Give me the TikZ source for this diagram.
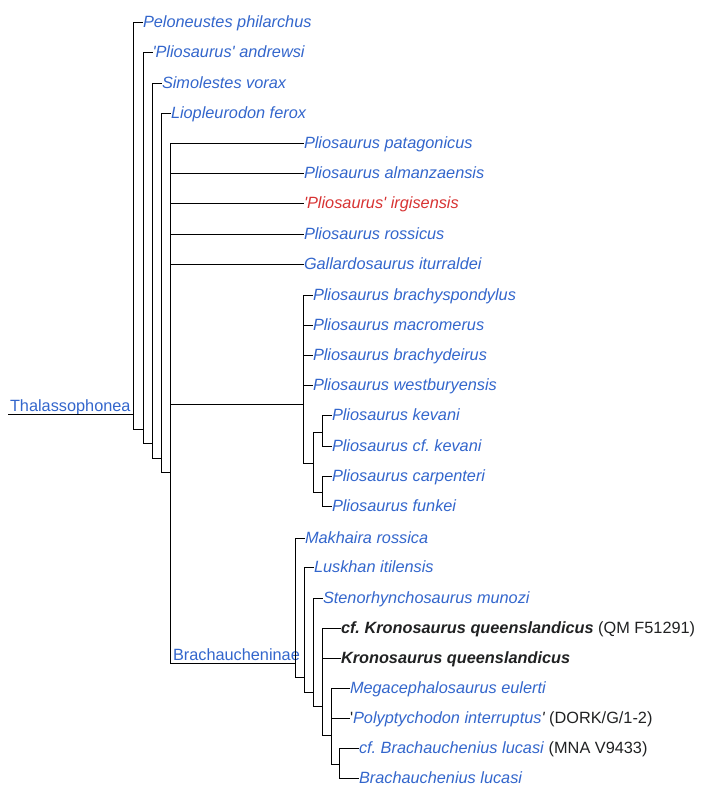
\documentclass[tikz,border=0pt]{standalone}
\usepackage{fontspec}
\setmainfont{Liberation Sans}
\definecolor{lnk}{HTML}{3366CC}
\definecolor{newlnk}{HTML}{D73333}
\definecolor{txt}{HTML}{202122}
\newcommand{\q}{\textquotesingle}
\frenchspacing
\begin{document}
\begin{tikzpicture}[x=1pt,y=-1pt,
  leaf/.style={anchor=west, inner sep=0pt, outer sep=0pt, text height=10.6pt, text depth=0pt,
    font=\fontsize{16.3}{19}\selectfont\itshape\frenchspacing, text=lnk},
  clade/.style={anchor=base west, inner sep=0pt, outer sep=0pt,
    font=\fontsize{16.3}{19}\selectfont, text=lnk},
  br/.style={draw=black, line width=1pt}]
\useasboundingbox (0,0) rectangle (702,790);

% internal points (x of vertical, y of incoming stem)
\coordinate (r)   at (8,414);
\coordinate (c0)  at (133,414);
\coordinate (c1)  at (143,429);
\coordinate (c2)  at (152,443);
\coordinate (c3)  at (161,458);
\coordinate (c4)  at (170,472);
\coordinate (c5)  at (303,404);
\coordinate (c6)  at (295,663);
\coordinate (c7)  at (313,463);
\coordinate (c8)  at (322,432);
\coordinate (c9)  at (322,492);
\coordinate (c10) at (304,677);
\coordinate (c11) at (313,692);
\coordinate (c12) at (322,706);
\coordinate (c13) at (331,735);
\coordinate (c14) at (339,764);

% clade labels
\node[clade] (thal) at (10,411.5) {Thalassophonea};
\node[clade] (brach) at (173,660) {Brachaucheninae};

% leaves
\node[leaf] (pel) at (143,22) {Peloneustes philarchus};
\node[leaf] (and) at (152.5,52) {\q Pliosaurus\q{} andrewsi};
\node[leaf] (sim) at (162,83) {Simolestes vorax};
\node[leaf] (lio) at (171,113) {Liopleurodon ferox};
\node[leaf] (pat) at (304,143) {Pliosaurus patagonicus};
\node[leaf] (alm) at (304,173) {Pliosaurus almanzaensis};
\node[leaf, text=newlnk] (irg) at (304,203) {\q Pliosaurus\q{} irgisensis};
\node[leaf] (ros) at (304,234) {Pliosaurus rossicus};
\node[leaf] (gal) at (304,264) {Gallardosaurus iturraldei};
\node[leaf] (bsp) at (313,295) {Pliosaurus brachyspondylus};
\node[leaf] (mac) at (313,325) {Pliosaurus macromerus};
\node[leaf] (bde) at (313,355) {Pliosaurus brachydeirus};
\node[leaf] (wes) at (313,385) {Pliosaurus westburyensis};
\node[leaf] (kev) at (332,415) {Pliosaurus kevani};
\node[leaf] (cfk) at (332,446) {Pliosaurus cf. kevani};
\node[leaf] (car) at (332,476) {Pliosaurus carpenteri};
\node[leaf] (fun) at (332,506) {Pliosaurus funkei};
\node[leaf] (mak) at (305,538) {Makhaira rossica};
\node[leaf] (lus) at (314,567) {Luskhan itilensis};
\node[leaf] (ste) at (323,598) {Stenorhynchosaurus munozi};
\node[leaf, text=txt] (cfkr) at (341,628) {\bfseries cf. Kronosaurus queenslandicus\/ \mdseries\upshape (QM F51291)};
\node[leaf, text=txt] (kro) at (341,658) {\bfseries Kronosaurus queenslandicus};
\node[leaf] (meg) at (350,688) {Megacephalosaurus eulerti};
\node[leaf] (pol) at (350,718) {\textcolor{txt}{\upshape\q}Polyptychodon interruptus\textcolor{txt}{\q\ \upshape (DORK/G/1-2)}};
\node[leaf] (cfb) at (359,748) {cf. Brachauchenius lucasi\/ \textcolor{txt}{\upshape (MNA V9433)}};
\node[leaf] (bra) at (359,778) {Brachauchenius lucasi};

% connectors
\draw[br] (r) -- (c0);
\draw[br] (c0) |- (pel.west);
\draw[br] (c0) |- (c1);
\draw[br] (c1) |- (and.west);
\draw[br] (c1) |- (c2);
\draw[br] (c2) |- (sim.west);
\draw[br] (c2) |- (c3);
\draw[br] (c3) |- (lio.west);
\draw[br] (c3) |- (c4);
\foreach \t in {pat,alm,irg,ros,gal} \draw[br] (c4) |- (\t.west);
\draw[br] (c4) |- (c5);
\draw[br] (c4) |- (c6);
\foreach \t in {bsp,mac,bde,wes} \draw[br] (c5) |- (\t.west);
\draw[br] (c5) |- (c7);
\draw[br] (c7) |- (c8);
\draw[br] (c7) |- (c9);
\foreach \t in {kev,cfk} \draw[br] (c8) |- (\t.west);
\foreach \t in {car,fun} \draw[br] (c9) |- (\t.west);
\draw[br] (c6) |- (mak.west);
\draw[br] (c6) |- (c10);
\draw[br] (c10) |- (lus.west);
\draw[br] (c10) |- (c11);
\draw[br] (c11) |- (ste.west);
\draw[br] (c11) |- (c12);
\foreach \t in {cfkr,kro} \draw[br] (c12) |- (\t.west);
\draw[br] (c12) |- (c13);
\foreach \t in {meg,pol} \draw[br] (c13) |- (\t.west);
\draw[br] (c13) |- (c14);
\foreach \t in {cfb,bra} \draw[br] (c14) |- (\t.west);
\end{tikzpicture}
\end{document}
